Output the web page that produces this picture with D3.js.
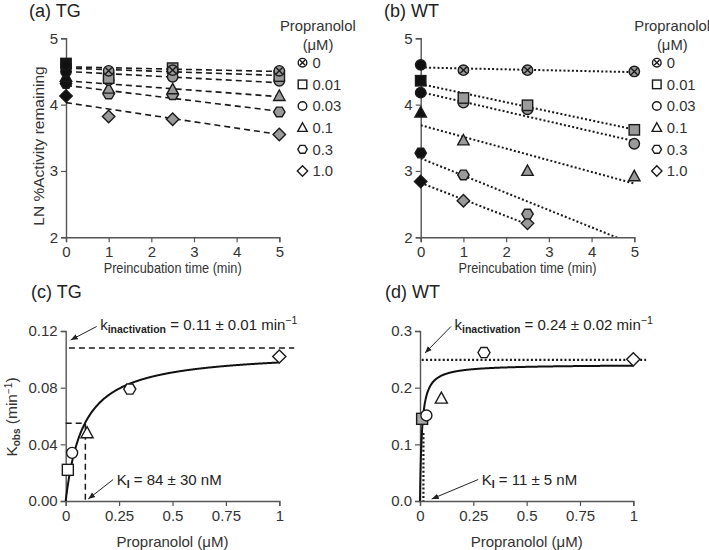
<!DOCTYPE html>
<html><head><meta charset="utf-8">
<script src="https://cdn.jsdelivr.net/npm/d3@7"></script>
<style>
html,body{margin:0;padding:0;background:#fff;}
svg{display:block;font-family:"Liberation Sans",Arial,sans-serif;}
</style></head>
<body>
<svg id="chart" width="709" height="550"></svg>
<script>
// ---------------- DATA ----------------
const times = [0, 1, 2.5, 5];
const concLabels = ["0", "0.01", "0.03", "0.1", "0.3", "1.0"];
const markerTypes = ["crossCircle", "square", "circle", "triangle", "hexagon", "diamond"];

// (a) TG : LN %activity remaining
const tg0    = [4.60, 4.51, 4.52, 4.51];
const tg001  = [4.62, 4.40, 4.55, 4.43];
const tg003  = [4.50, 4.37, 4.42, 4.36];
const tg01   = [4.42, 4.24, 4.23, 4.13];
const tg03   = [4.32, 4.16, 4.15, 3.89];
const tg1    = [4.13, 3.82, 3.78, 3.55];
const tgFitIntercept = [4.57, 4.55, 4.50, 4.36, 4.29, 4.03];
const tgFitSlope     = [-0.014, -0.022, -0.034, -0.048, -0.078, -0.096];
const tgFitEnd       = [5, 5, 5, 5, 5, 5];

// (b) WT
const wt0    = [4.60, 4.52, 4.52, 4.50];
const wt001  = [4.36, 4.10, 3.99, 3.62];
const wt003  = [4.18, 4.03, 3.93, 3.41];
const wt01   = [3.88, 3.46, 3.00, 2.92];
const wt03   = [3.27, 2.94, 2.35, null];
const wt1    = [2.84, 2.55, 2.21, null];
const wtFitIntercept = [4.56, 4.31, 4.19, 3.69, 3.19, 2.82];
const wtFitSlope     = [-0.014, -0.137, -0.148, -0.176, -0.260, -0.250];
const wtFitEnd       = [5, 5, 5, 5, 5, 2.5];

// (c),(d) kobs vs propranolol
const propConc = [0.01, 0.03, 0.1, 0.3, 1.0];
const kobsTG = [0.022, 0.034, 0.048, 0.079, 0.102];
const kobsWT = [0.145, 0.151, 0.181, 0.262, 0.250];
const fitTG = {kinact: 0.106, KI: 0.084};
const fitWT = {kinact: 0.241, KI: 0.009};
const refTG = {kLine: 0.108, kFrom: 0.015, kTo: 1.07, half: 0.0548, KIx: 0.092};
const refWT = {kLine: 0.249, kFrom: 0.008, kTo: 1.06, halfTop: 0.12, KIx: 0.016};

const timeTicks = [0, 1, 2, 3, 4, 5];
const lnTicks = [2, 3, 4, 5];
const concTicks = [0, 0.25, 0.5, 0.75, 1];
const concTickLabels = ["0", "0.25", "0.5", "0.75", "1"];
const kTicksTG = [0, 0.04, 0.08, 0.12];
const kTicksWT = [0, 0.1, 0.2, 0.3];

// ---------------- DRAW ----------------
const svg = d3.select("#chart");
const FONT = 15;
const GRAY = "#9a9a9a";
const AX = "#555";

const defs = svg.append("defs");
defs.append("marker").attr("id","arr").attr("viewBox","0 0 10 10")
  .attr("refX",10).attr("refY",5).attr("markerWidth",7).attr("markerHeight",7)
  .attr("orient","auto-start-reverse").attr("markerUnits","userSpaceOnUse")
  .append("path").attr("d","M0,1 L10,5 L0,9 Z").attr("fill","#222");

function marker(g, type, x, y, fill, s) {
  const m = g.append("g").attr("transform", `translate(${x},${y})`)
    .attr("fill", fill).attr("stroke", "#1a1a1a").attr("stroke-width", 1.4);
  if (type === "circle" || type === "crossCircle") {
    m.append("circle").attr("r", s);
    if (type === "crossCircle") {
      const d = s * 0.62;
      m.append("path").attr("d", `M${-d},${-d}L${d},${d}M${-d},${d}L${d},${-d}`).attr("fill","none");
    }
  } else if (type === "square") {
    m.append("rect").attr("x", -s).attr("y", -s).attr("width", 2*s).attr("height", 2*s);
  } else if (type === "triangle") {
    m.append("path").attr("d", `M0,${-s*1.15}L${s*1.1},${s*0.85}L${-s*1.1},${s*0.85}Z`);
  } else if (type === "hexagon") {
    const a = s*1.1, b = s*0.55, h = s*0.92;
    m.append("path").attr("d", `M${-a},0L${-b},${-h}L${b},${-h}L${a},0L${b},${h}L${-b},${h}Z`);
  } else if (type === "diamond") {
    const d = s*1.2;
    m.append("path").attr("d", `M0,${-d}L${d},0L0,${d}L${-d},0Z`);
  }
}

function styleAxis(g) {
  g.selectAll(".domain").attr("stroke", AX).attr("stroke-width", 1.4);
  g.selectAll(".tick line").attr("stroke", AX).attr("stroke-width", 1.2);
  g.selectAll(".tick text").attr("fill", "#333").attr("font-size", FONT)
    .attr("font-family", '"Liberation Sans",Arial,sans-serif');
}

function title(x, y, txt) {
  svg.append("text").attr("x", x).attr("y", y).attr("font-size", 18).attr("fill", "#222").text(txt);
}

function timePanel(opts) {
  const x = d3.scaleLinear().domain([0, 5]).range([opts.x0, opts.x1]);
  const y = d3.scaleLinear().domain([2, 5]).range([237.3, 38.3]);
  const g = svg.append("g");
  const gx = g.append("g").attr("transform", `translate(0,${y(2)})`)
    .call(d3.axisBottom(x).tickValues(timeTicks).tickFormat(d3.format("d")).tickSizeOuter(0).tickSize(5).tickPadding(4));
  styleAxis(gx);
  const gy = g.append("g").attr("transform", `translate(${x(0)},0)`)
    .call(d3.axisLeft(y).tickValues(lnTicks).tickFormat(d3.format("d")).tickSizeOuter(0).tickSize(5).tickPadding(3));
  styleAxis(gy);
  // x label
  g.append("text").attr("x", (opts.x0 + opts.x1)/2).attr("y", 273).attr("text-anchor","middle")
    .attr("font-size", 14.5).attr("fill","#333").attr("textLength", 138).attr("lengthAdjust","spacingAndGlyphs")
    .text("Preincubation time (min)");
  if (opts.ylabel) {
    g.append("text").attr("transform", `translate(44,146) rotate(-90)`).attr("text-anchor","middle")
      .attr("font-size", 15.5).attr("fill","#333").text(opts.ylabel);
  }
  // clip
  const cid = "clip" + opts.id;
  defs.append("clipPath").attr("id", cid).append("rect")
    .attr("x", x(0)).attr("y", y(5) - 20).attr("width", x(5) - x(0) + 20).attr("height", y(2) - y(5) + 20);
  const line = d3.line().x(d => x(d[0])).y(d => y(d[1]));
  opts.series.forEach((s, i) => {
    const t1 = opts.fitEnd[i];
    g.append("path").attr("clip-path", `url(#${cid})`)
      .attr("d", line([[0, opts.icpt[i]], [t1, opts.icpt[i] + opts.slope[i]*t1]]))
      .attr("fill","none").attr("stroke","#1a1a1a").attr("stroke-width", opts.lw)
      .attr("stroke-dasharray", opts.dash);
  });
  for (let i = opts.series.length - 1; i >= 0; i--) {
    const s = opts.series[i];
    s.forEach((v, j) => {
      if (v === null) return;
      if (j === 0) return;
      marker(g, markerTypes[i], x(times[j]), y(v), GRAY, 5.2);
    });
  }
  for (let i = opts.series.length - 1; i >= 0; i--) {
    const v = opts.series[i][0];
    marker(g, markerTypes[i] === "crossCircle" ? "circle" : markerTypes[i], x(times[0]), y(v), "#111", 5.2);
  }
  // legend
  const lg = g.append("g");
  lg.append("text").attr("x", opts.legX).attr("y", 31).attr("font-size", 14.8).attr("fill","#333").text("Propranolol");
  lg.append("text").attr("x", opts.legX + 38).attr("y", 50).attr("text-anchor","middle").attr("font-size", 14.8).attr("fill","#333").text("(μM)");
  const rowY = d3.scaleLinear().domain([0, 5]).range([62.7, 171]);
  concLabels.forEach((c, i) => {
    marker(lg, markerTypes[i], opts.legX + 22.5, rowY(i), "#fff", 4.3);
    lg.append("text").attr("x", opts.legX + 32.5).attr("y", rowY(i) + 5.3).attr("font-size", 14.8).attr("fill","#333").text(c);
  });
}

timePanel({id:"a", x0: 66, x1: 279.3, series:[tg0,tg001,tg003,tg01,tg03,tg1],
  icpt: tgFitIntercept, slope: tgFitSlope, fitEnd: tgFitEnd, dash: "6,4", lw: 1.6,
  ylabel: "LN %Activity remaining", legX: 280});
timePanel({id:"b", x0: 420.7, x1: 634.3, series:[wt0,wt001,wt003,wt01,wt03,wt1],
  icpt: wtFitIntercept, slope: wtFitSlope, fitEnd: wtFitEnd, dash: "2,2.2", lw: 2,
  ylabel: null, legX: 634.3});
title(29, 17, "(a) TG");
title(384, 17, "(b) WT");

function kPanel(opts) {
  const x = d3.scaleLinear().domain([0, 1]).range([opts.x0, opts.x1]);
  const y = d3.scaleLinear().domain([0, opts.ymax]).range([501, 331]);
  const g = svg.append("g");
  const gx = g.append("g").attr("transform", `translate(0,${y(0)})`)
    .call(d3.axisBottom(x).tickValues(concTicks).tickFormat((d,i) => concTickLabels[i]).tickSizeOuter(0).tickSize(5).tickPadding(4));
  styleAxis(gx);
  const gy = g.append("g").attr("transform", `translate(${x(0)},0)`)
    .call(d3.axisLeft(y).tickValues(opts.yticks).tickFormat(d3.format(opts.fmt)).tickSizeOuter(0).tickSize(5).tickPadding(3));
  styleAxis(gy);
  g.append("text").attr("x", (opts.x0 + opts.x1)/2).attr("y", 547).attr("text-anchor","middle")
    .attr("font-size", FONT).attr("fill","#333").text("Propranolol (μM)");
  if (opts.ylabel) {
    const t = g.append("text").attr("transform", `translate(17,417) rotate(-90)`).attr("text-anchor","middle")
      .attr("font-size", 15.5).attr("fill","#333");
    t.append("tspan").text("K");
    t.append("tspan").attr("font-size", 10).attr("font-weight","bold").attr("dy", 3).text("obs");
    t.append("tspan").attr("dy", -3).text(" (min");
    t.append("tspan").attr("font-size", 10).attr("dy", -5).text("−1");
    t.append("tspan").attr("dy", 5).text(")");
  }
  const ref = opts.ref;
  const line = d3.line().x(d => x(d[0])).y(d => y(d[1]));
  const refStyle = p => p.attr("fill","none").attr("stroke","#1a1a1a").attr("stroke-width", opts.refLw).attr("stroke-dasharray", opts.dash);
  refStyle(g.append("path").attr("d", line([[ref.kFrom, ref.kLine], [ref.kTo, ref.kLine]])));
  if (ref.half !== undefined) {
    refStyle(g.append("path").attr("d", line([[0, ref.half], [ref.KIx, ref.half], [ref.KIx, 0]])));
  } else {
    refStyle(g.append("path").attr("d", line([[ref.KIx, ref.halfTop], [ref.KIx, 0]])));
  }
  // fit curve
  const xs = d3.range(0, 0.02, 0.0005).concat(d3.range(0.02, 1.0001, 0.0025));
  const pts = xs.map(c => [c, opts.fit.kinact * c / (opts.fit.KI + c)]);
  g.append("path").attr("d", d3.line().x(d => x(d[0])).y(d => y(d[1])).curve(d3.curveMonotoneX)(pts))
    .attr("fill","none").attr("stroke","#111").attr("stroke-width", 2);
  // markers
  propConc.forEach((c, i) => {
    const fill = (opts.grayFirst && i === 0) ? "#a8a8a8" : "#fff";
    marker(g, markerTypes[i+1], x(c), y(opts.vals[i]), fill, 5.5);
  });
  // annotations
  const a1 = g.append("text").attr("x", opts.x0 + 34.5).attr("y", 330).attr("font-size", 15).attr("fill","#222");
  a1.append("tspan").text("k");
  a1.append("tspan").attr("font-size", 10.5).attr("font-weight","bold").attr("dy", 3).text("inactivation");
  a1.append("tspan").attr("dy", -3).text(opts.kText);
  a1.append("tspan").attr("font-size", 10.5).attr("dy", -6).text("−1");
  g.append("line").attr("x1", opts.x0 + 31).attr("y1", 326.5).attr("x2", opts.x0 + opts.arr1dx).attr("y2", opts.arr1y)
    .attr("stroke","#222").attr("stroke-width", 1).attr("marker-end","url(#arr)");
  const a2 = g.append("text").attr("x", opts.x0 + opts.kiX).attr("y", 485).attr("font-size", 15).attr("fill","#222");
  a2.append("tspan").text("K");
  a2.append("tspan").attr("font-size", 10.5).attr("font-weight","bold").attr("dy", 3).text("I");
  a2.append("tspan").attr("dy", -3).text(opts.kiText);
  g.append("line").attr("x1", opts.x0 + opts.kiX - 3.5).attr("y1", 479.5).attr("x2", opts.x0 + opts.arr2dx).attr("y2", 499)
    .attr("stroke","#222").attr("stroke-width", 1).attr("marker-end","url(#arr)");
}

kPanel({x0: 65.7, x1: 279.3, ymax: 0.12, yticks: kTicksTG, fmt: ".2f", vals: kobsTG, fit: fitTG,
  ref: refTG, dash: "6,4", refLw: 1.5, ylabel: true, grayFirst: false,
  kText: " = 0.11 ± 0.01 min", kiText: " = 84 ± 30 nM", arr1dx: 5, arr1y: 340, kiX: 51, arr2dx: 22.5});
kPanel({x0: 420, x1: 633.3, ymax: 0.3, yticks: kTicksWT, fmt: ".1f", vals: kobsWT, fit: fitWT,
  ref: refWT, dash: "2,2.2", refLw: 2.2, ylabel: false, grayFirst: true,
  kText: " = 0.24 ± 0.02 min", kiText: " = 11 ± 5 nM", arr1dx: 5, arr1y: 353, kiX: 61.7, arr2dx: 11.7});
title(31, 298, "(c) TG");
title(385, 298, "(d) WT");
</script>
</body></html>
